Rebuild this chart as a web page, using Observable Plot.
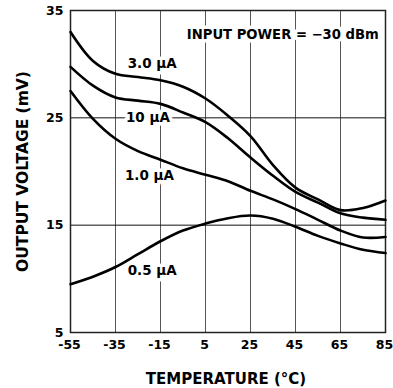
<!DOCTYPE html>
<html>
<head>
<meta charset="utf-8">
<script src="https://cdn.jsdelivr.net/npm/d3@7"></script>
<script src="https://cdn.jsdelivr.net/npm/@observablehq/plot@0.6"></script>
<style>
  html, body { margin: 0; padding: 0; background: #fff; }
</style>
</head>
<body>
<div id="chart"></div>
<script>
// Data
const temps = [-55, -45, -35, -25, -15, -5, 5, 15, 25, 35, 45, 55, 65, 75, 85];
const s30 = [33.0, 30.3, 29.1, 28.8, 28.5, 27.9, 26.8, 25.2, 23.3, 20.6, 18.5, 17.4, 16.4, 16.6, 17.3];
const s10 = [29.75, 28.0, 26.9, 26.6, 26.3, 25.5, 24.6, 23.1, 21.3, 19.6, 18.1, 17.1, 16.1, 15.7, 15.5];
const s1 = [27.5, 24.9, 23.05, 21.9, 21.1, 20.3, 19.7, 19.1, 18.2, 17.4, 16.5, 15.5, 14.5, 13.85, 13.9];
const s05 = [9.5, 10.2, 11.1, 12.3, 13.5, 14.5, 15.15, 15.65, 15.9, 15.6, 14.85, 14.0, 13.3, 12.7, 12.4];

const seriesNames = ["3.0 \u00B5A", "10 \u00B5A", "1.0 \u00B5A", "0.5 \u00B5A"];
const seriesValues = [s30, s10, s1, s05];
const labelX = [-18.7, -20.6, -19.9, -18.7];
const labelY = [30.06, 25.02, 19.6, 10.75];

const xTicks = [-55, -35, -15, 5, 25, 45, 65, 85];
const yTicks = [5, 15, 25, 35];
const xGrid = [-35, -15, 5, 25, 45, 65];
const yGrid = [15, 25];

const note = "INPUT POWER = \u221230 dBm";
const noteX = 82, noteY = 32.7;
const xTitle = "TEMPERATURE (\u00B0C)";
const yTitle = "OUTPUT VOLTAGE (mV)";

const rows = [];
seriesNames.forEach((name, i) => {
  temps.forEach((t, j) => rows.push({series: name, t, v: seriesValues[i][j]}));
});
const labels = seriesNames.map((name, i) => ({name, x: labelX[i], y: labelY[i]}));

const font = "DejaVu Sans, Liberation Sans, Arial, sans-serif";
const fmt = d => String(d);

const chart = Plot.plot({
  width: 393,
  height: 388,
  marginLeft: 70,
  marginRight: 8,
  marginTop: 10,
  marginBottom: 56,
  style: {fontFamily: font, fontWeight: "bold", fontSize: "12.5px", color: "#000", background: "#fff"},
  x: {domain: [-55, 85], label: null},
  y: {domain: [5, 35], label: null},
  marks: [
    Plot.ruleX(xGrid, {stroke: "#555", strokeWidth: 1}),
    Plot.ruleY(yGrid, {stroke: "#111", strokeWidth: 1}),
    Plot.frame({stroke: "#222", strokeWidth: 1.5}),
    Plot.line(rows, {x: "t", y: "v", z: "series", stroke: "#000", strokeWidth: 2.6, curve: "catmull-rom"}),
    Plot.text(labels, {x: "x", y: "y", text: "name", fontSize: 13.5, fontWeight: "bold", fill: "#000",
      stroke: "white", strokeWidth: 7, textAnchor: "middle", lineAnchor: "middle"}),
    Plot.text([note], {x: noteX, y: noteY, fontSize: 13.2, fontWeight: "bold", fill: "#000",
      stroke: "white", strokeWidth: 7, textAnchor: "end", lineAnchor: "middle"}),
    Plot.text([xTitle], {frameAnchor: "bottom", dy: 46.5, dx: -2, textAnchor: "middle", fontSize: 15, fontWeight: "bold", fill: "#000", lineAnchor: "middle"}),
    Plot.text([yTitle], {frameAnchor: "left", dx: -47, rotate: -90, textAnchor: "middle", fontSize: 15.5, fontWeight: "bold", fill: "#000", lineAnchor: "middle"}),
    Plot.axisX({ticks: xTicks, tickFormat: fmt, tickSize: 0, tickPadding: 8, label: null, fontSize: 12.5, dx: -1}),
    Plot.axisY({ticks: yTicks, tickFormat: fmt, tickSize: 0, tickPadding: 7, label: null, fontSize: 12.5})
  ]
});
document.getElementById("chart").appendChild(chart);
</script>
</body>
</html>
